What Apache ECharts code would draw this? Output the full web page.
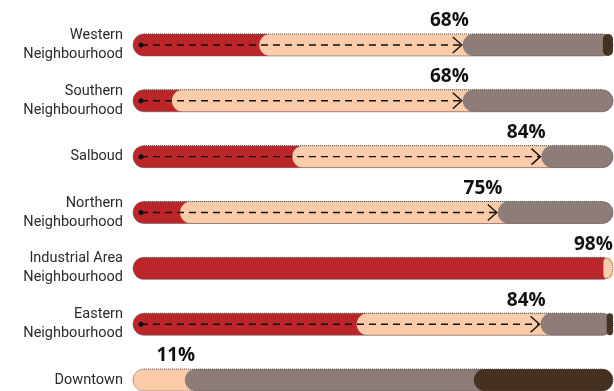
<!DOCTYPE html>
<html>
<head>
<meta charset="utf-8">
<script src="https://cdn.jsdelivr.net/npm/echarts@6/dist/echarts.min.js"></script>
<style>
html,body{margin:0;padding:0;background:#fff;}
#chart{width:614px;height:391px;}
</style>
</head>
<body>
<div id="chart"></div>
<script>
const categories = ['Western\nNeighbourhood','Southern\nNeighbourhood','Salboud','Northern\nNeighbourhood','Industrial Area\nNeighbourhood','Eastern\nNeighbourhood','Downtown'];
const redPart   = [26.3, 8.1, 33.2, 9.8, 98, 46.6, 0];
const peachPart = [42.4, 60.6, 51.9, 66.2, 2, 38.3, 10.8];
const greyPart  = [29.2, 31.3, 14.9, 24.0, 0, 13.8, 60.2];
const darkPart  = [2.1, 0, 0, 0, 0, 1.3, 29.0];
const pctLabels = [68, 68, 84, 75, 98, 84, 11];
const showArrow = [1, 1, 1, 1, 0, 1, 0];

const COLORS = ['#BB262B', '#FBCBAA', '#8E7C78', '#46301F'];

const chart = echarts.init(document.getElementById('chart'), null, {renderer: 'canvas'});

function renderItem(params, api) {
  const i = params.dataIndex;
  const yc = api.coord([0, i])[1];
  const h = 22, r = 11;
  const parts = [redPart[i], peachPart[i], greyPart[i], darkPart[i]];
  const total = parts.reduce((a, b) => a + b, 0);
  const xEnd = api.coord([total, i])[0];
  const children = [];
  let start = 0;
  parts.forEach((v, k) => {
    if (v > 0) {
      const x0 = api.coord([start, i])[0];
      const w = xEnd - x0;
      children.push({
        type: 'rect',
        shape: {x: x0, y: yc - h / 2, width: w, height: h, r: Math.min(r, w / 2)},
        style: {fill: COLORS[k]}
      });
    }
    start += v;
  });
  const xs = api.coord([0, i])[0];
  children.push({
    type: 'rect',
    shape: {x: xs, y: yc - h / 2, width: xEnd - xs, height: h, r: r},
    style: {fill: 'none', stroke: '#555', lineWidth: 1, lineDash: [1, 1]}
  });
  if (showArrow[i]) {
    const tip = api.coord([redPart[i] + peachPart[i], i])[0] - 1;
    const x0 = xs + 8;
    children.push({
      type: 'line',
      shape: {x1: x0, y1: yc, x2: tip - 1, y2: yc},
      style: {stroke: '#111', lineWidth: 1.4, lineDash: [7, 5]}
    });
    children.push({
      type: 'circle',
      shape: {cx: x0, cy: yc, r: 2.5},
      style: {fill: '#111'}
    });
    children.push({
      type: 'polyline',
      shape: {points: [[tip - 9, yc - 8], [tip, yc], [tip - 9, yc + 8]]},
      style: {stroke: '#111', lineWidth: 1.4, fill: 'none'}
    });
  }
  const lx = api.coord([pctLabels[i], i])[0] - 10;
  children.push({
    type: 'text',
    style: {
      x: lx, y: yc - 24,
      text: pctLabels[i] + '%',
      fill: '#111',
      font: 'bold 19px "Open Sans"',
      align: 'center',
      verticalAlign: 'middle'
    }
  });
  return {type: 'group', children: children};
}

chart.setOption({
  animation: false,
  grid: {left: 133, top: 17, width: 480, height: 391, outerBoundsMode: 'none', containLabel: false},
  xAxis: {type: 'value', min: 0, max: 100, show: false},
  yAxis: {
    type: 'category',
    data: categories,
    inverse: true,
    axisLine: {show: false},
    axisTick: {show: false},
    axisLabel: {
      margin: 10,
      color: '#2b2b2b',
      fontFamily: 'Roboto',
      fontSize: 14.5,
      lineHeight: 19,
      align: 'right'
    }
  },
  series: [{
    type: 'custom',
    clip: false,
    renderItem: renderItem,
    data: categories.map((c, i) => [0, i])
  }]
});
</script>
</body>
</html>
